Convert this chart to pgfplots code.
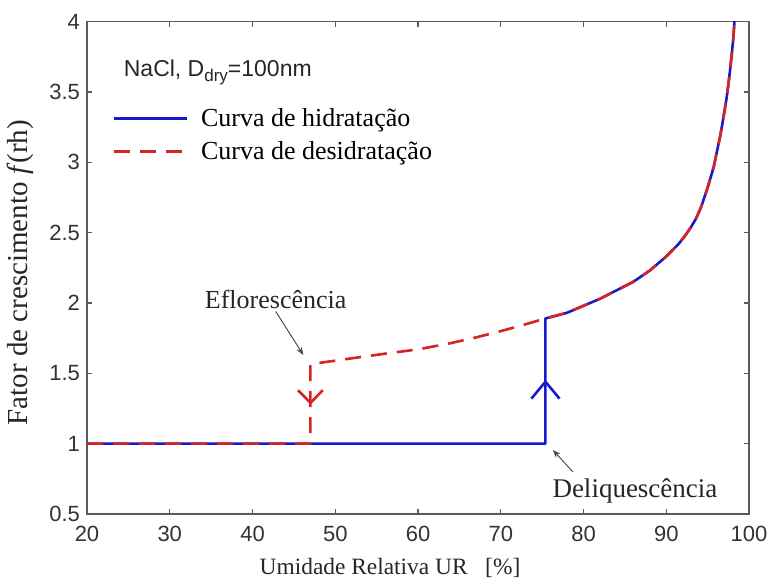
\documentclass[border=0pt]{standalone}
\usepackage{fontspec}
\setmainfont{Liberation Serif}
\setsansfont{Liberation Sans}
\usepackage{pgfplots}
\pgfplotsset{compat=1.18}
\usetikzlibrary{arrows.meta}

\definecolor{hidblue}{RGB}{25,25,205}
\definecolor{desred}{RGB}{215,35,35}
\definecolor{axgray}{RGB}{90,90,90}

\begin{document}
\begin{tikzpicture}
\begin{axis}[
  scale only axis, width=331pt, height=246.2pt,
  xmin=20, xmax=100, ymin=0.5, ymax=4,
  xtick={20,30,...,100}, ytick={0.5,1,...,4},
  tick align=inside, tick pos=both, major tick length=2.5pt,
  axis line style={axgray, line width=0.6pt},
  every tick/.style={axgray, line width=0.6pt},
  ticklabel style={font=\sffamily\fontsize{11}{13}\selectfont, text=black!80},
  /pgf/number format/assume math mode=true,
  xticklabel style={yshift=-2.5pt},
  xlabel={Umidade Relativa UR\ \ \ [\%]},
  ylabel={Fator de crescimento \textit{f}(rh)},
  every axis x label/.style={at={(axis description cs:0.4577,-0.1219)}, anchor=base, font=\fontsize{11.7}{14}\selectfont, text=black!85},
  every axis y label/.style={at={(axis description cs:-0.1012,0.49)}, rotate=90, anchor=center, font=\fontsize{14.5}{17}\selectfont, text=black!85},
  legend style={draw=none, fill=none, inner sep=0pt, nodes={inner sep=0pt}, column sep=6.5pt, row sep=6pt,
    at={(axis description cs:0,1)}, anchor=north west, xshift=12.5pt, yshift=-43pt,
    font=\fontsize{13}{15}\selectfont},
  legend cell align=left,
  legend image code/.code={\draw[#1] (0pt,0pt) -- (36.5pt,0pt);},
]

% hydration branch: dry particle until deliquescence, then the solution droplet
\addplot[hidblue, line width=1.3pt, line join=round] coordinates {
  (20,1) (75.4,1) (75.4,1.89)
  (78,1.93) (80,1.98) (82,2.03) (84,2.09) (86,2.15) (88,2.23) (90,2.33)
  (91.5,2.42) (92.3,2.48) (93,2.54) (93.6,2.60) (94.2,2.68) (94.6,2.75)
  (95,2.82) (95.75,2.97) (96.1,3.07) (96.5,3.18) (96.8,3.28) (97,3.35)
  (97.3,3.46) (97.5,3.55) (97.7,3.65) (97.9,3.76) (98.1,3.88) (98.24,4.0) (98.35,4.08)
};
\addlegendentry{Curva de hidratação}

% dehydration branch: metastable droplet down to efflorescence
\addplot[desred, line width=1.3pt, line join=round, dash pattern=on 8pt off 5pt] coordinates {
  (20,1) (47,1) (47,1.565)
  (50,1.59) (53,1.615) (56.7,1.645) (60,1.67) (64,1.715) (67,1.755)
  (70,1.80) (72.5,1.84) (75.4,1.89)
  (78,1.93) (80,1.98) (82,2.03) (84,2.09) (86,2.15) (88,2.23) (90,2.33)
  (91.5,2.42) (92.3,2.48) (93,2.54) (93.6,2.60) (94.2,2.68) (94.6,2.75)
  (95,2.82) (95.75,2.97) (96.1,3.07) (96.5,3.18) (96.8,3.28) (97,3.35)
  (97.3,3.46) (97.5,3.55) (97.7,3.65) (97.9,3.76) (98.1,3.88) (98.24,4.0) (98.35,4.08)
};
\addlegendentry{Curva de desidratação}

% direction chevrons on the phase transitions
\addplot[hidblue, line width=1.3pt, forget plot] coordinates {(73.7,1.32) (75.4,1.44) (77.1,1.32)};
\addplot[desred, line width=1.3pt, forget plot] coordinates {(45.5,1.38) (47,1.29) (48.5,1.38)};

\node[anchor=base west, font=\sffamily\fontsize{11.5}{13}\selectfont, text=black!85] at (axis cs:23.6,3.61)
  {NaCl, D\raisebox{-0.45ex}{\fontsize{8.5}{9}\selectfont dry}=100nm};

\node[anchor=base west, font=\fontsize{13}{15}\selectfont, text=black!85] at (axis cs:33.4,1.964) {Eflorescência};
\node[anchor=base west, font=\fontsize{13.5}{15}\selectfont, text=black!85] at (axis cs:75.4,0.62) {Deliquescência};

\draw[black!70, line width=0.5pt, -{Stealth[length=4pt,width=3pt]}] (axis cs:42.8,1.94) -- (axis cs:46.15,1.63);
\draw[black!70, line width=0.5pt, -{Stealth[length=4pt,width=3pt]}] (axis cs:78.7,0.80) -- (axis cs:76.3,0.955);
\end{axis}
\pgfresetboundingbox
\path ([shift={(-43.5pt,-33pt)}]current axis.south west) rectangle ([shift={(11pt,10.8pt)}]current axis.north east);
\end{tikzpicture}
\end{document}
